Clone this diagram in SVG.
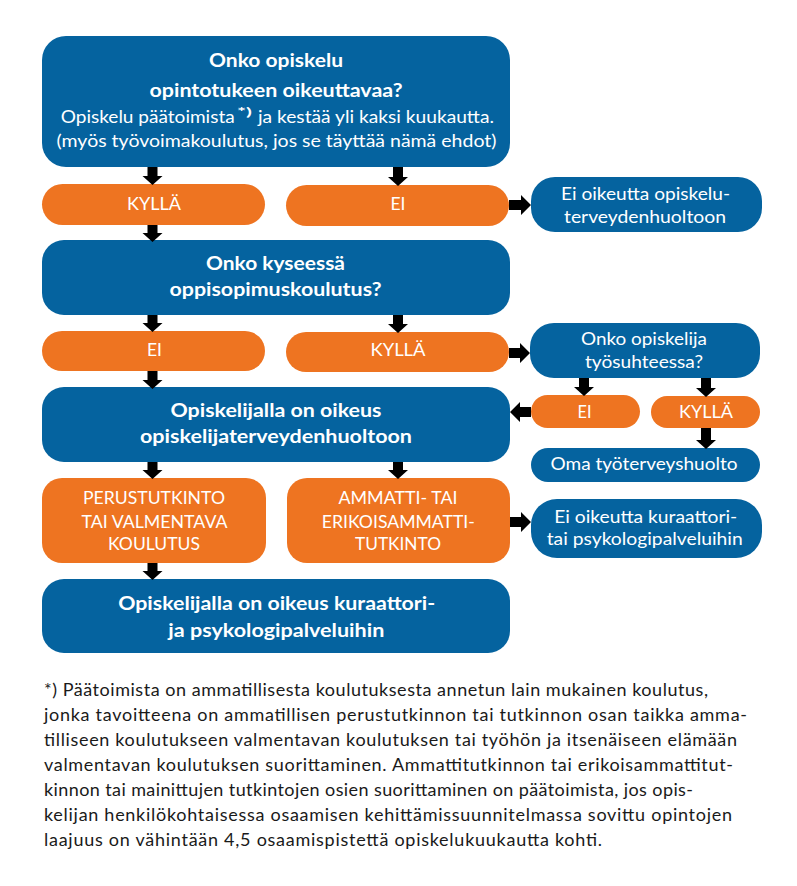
<svg xmlns="http://www.w3.org/2000/svg" width="797" height="886" viewBox="0 0 797 886">
<style>
.blue{fill:#05639f}
.orange{fill:#ee7421}
.t{font-family:Lato,"Open Sans","Liberation Sans",sans-serif;fill:#fff;text-anchor:middle}
.b{font-weight:700}
.s19{font-size:19px}
.s18{font-size:18px}
.s17{font-size:17px}
.arrow{fill:#000}
.fn{font-family:Lato,"Open Sans","Liberation Sans",sans-serif;font-size:18px;fill:#1a1a1a}
</style>
<rect width="797" height="886" fill="#fff"/>
<g id="n1">
<rect class="blue" x="42" y="36" width="468" height="131" rx="24"/>
<text class="t b s19" x="276" y="67" textLength="134" lengthAdjust="spacingAndGlyphs">Onko opiskelu</text>
<text class="t b s19" x="276" y="97" textLength="253" lengthAdjust="spacingAndGlyphs">opintotukeen oikeuttavaa?</text>
<text class="t s18" x="60.7" y="123" style="text-anchor:start" textLength="174" lengthAdjust="spacingAndGlyphs">Opiskelu päätoimista</text>
<text class="t b" x="237" y="116" style="text-anchor:start;font-size:12px" textLength="15" lengthAdjust="spacingAndGlyphs">*)</text>
<text class="t s18" x="258" y="123" style="text-anchor:start" textLength="236" lengthAdjust="spacingAndGlyphs">ja kestää yli kaksi kuukautta.</text>
<text class="t s18" x="276.5" y="146.5" textLength="440" lengthAdjust="spacingAndGlyphs">(myös työvoimakoulutus, jos se täyttää nämä ehdot)</text>
</g>
<g id="n2">
<rect class="orange" x="42" y="184" width="223" height="41" rx="20.5"/>
<text class="t s18" x="154" y="209.5" textLength="54" lengthAdjust="spacingAndGlyphs">KYLLÄ</text>
</g>
<g id="n3">
<rect class="orange" x="286" y="185" width="223" height="41" rx="20.5"/>
<text class="t s18" x="398" y="210" textLength="15" lengthAdjust="spacingAndGlyphs">EI</text>
</g>
<g id="n4">
<rect class="blue" x="531" y="177" width="231" height="55" rx="24"/>
<text class="t s17" x="645.5" y="199.5" textLength="169" lengthAdjust="spacingAndGlyphs">Ei oikeutta opiskelu-</text>
<text class="t s17" x="645" y="222.5" textLength="162" lengthAdjust="spacingAndGlyphs">terveydenhuoltoon</text>
</g>
<g id="n5">
<rect class="blue" x="42" y="240" width="468" height="75" rx="22"/>
<text class="t b s19" x="275.5" y="270" textLength="139" lengthAdjust="spacingAndGlyphs">Onko kyseessä</text>
<text class="t b s19" x="275.5" y="296" textLength="212" lengthAdjust="spacingAndGlyphs">oppisopimuskoulutus?</text>
</g>
<g id="n6">
<rect class="orange" x="42" y="331" width="223" height="40" rx="20"/>
<text class="t s18" x="154.5" y="355.5" textLength="15" lengthAdjust="spacingAndGlyphs">EI</text>
</g>
<g id="n7">
<rect class="orange" x="286" y="332" width="223" height="40" rx="20"/>
<text class="t s18" x="398" y="356" textLength="55" lengthAdjust="spacingAndGlyphs">KYLLÄ</text>
</g>
<g id="n8">
<rect class="blue" x="530" y="323" width="230" height="55" rx="24"/>
<text class="t s17" x="644" y="345" textLength="126" lengthAdjust="spacingAndGlyphs">Onko opiskelija</text>
<text class="t s17" x="644" y="367.5" textLength="118" lengthAdjust="spacingAndGlyphs">työsuhteessa?</text>
</g>
<g id="n9">
<rect class="blue" x="42" y="387" width="468" height="75" rx="22"/>
<text class="t b s19" x="276" y="416.5" textLength="211" lengthAdjust="spacingAndGlyphs">Opiskelijalla on oikeus</text>
<text class="t b s19" x="276" y="442.5" textLength="272" lengthAdjust="spacingAndGlyphs">opiskelijaterveydenhuoltoon</text>
</g>
<g id="n10">
<rect class="orange" x="531" y="395" width="109" height="33" rx="16.5"/>
<text class="t s18" x="584.5" y="418" textLength="14" lengthAdjust="spacingAndGlyphs">EI</text>
</g>
<g id="n11">
<rect class="orange" x="651" y="396" width="109" height="32" rx="16"/>
<text class="t s18" x="706" y="418" textLength="54" lengthAdjust="spacingAndGlyphs">KYLLÄ</text>
</g>
<g id="n12">
<rect class="blue" x="531" y="448" width="229" height="34" rx="17"/>
<text class="t s17" x="644" y="470" textLength="187" lengthAdjust="spacingAndGlyphs">Oma työterveyshuolto</text>
</g>
<g id="n13">
<rect class="orange" x="42" y="478" width="224" height="85" rx="20"/>
<text class="t s18" x="154" y="504" textLength="142" lengthAdjust="spacingAndGlyphs">PERUSTUTKINTO</text>
<text class="t s18" x="154.5" y="527.5" textLength="146" lengthAdjust="spacingAndGlyphs">TAI VALMENTAVA</text>
<text class="t s18" x="154" y="550" textLength="92" lengthAdjust="spacingAndGlyphs">KOULUTUS</text>
</g>
<g id="n14">
<rect class="orange" x="287" y="478" width="223" height="85" rx="20"/>
<text class="t s18" x="398" y="504" textLength="119" lengthAdjust="spacingAndGlyphs">AMMATTI- TAI</text>
<text class="t s18" x="398.3" y="527.5" textLength="153" lengthAdjust="spacingAndGlyphs">ERIKOISAMMATTI-</text>
<text class="t s18" x="398" y="550" textLength="86" lengthAdjust="spacingAndGlyphs">TUTKINTO</text>
</g>
<g id="n15">
<rect class="blue" x="531" y="499" width="231" height="59" rx="26"/>
<text class="t s17" x="645.7" y="523.3" textLength="183" lengthAdjust="spacingAndGlyphs">Ei oikeutta kuraattori-</text>
<text class="t s17" x="644.7" y="545" textLength="196" lengthAdjust="spacingAndGlyphs">tai psykologipalveluihin</text>
</g>
<g id="n16">
<rect class="blue" x="42" y="579" width="468" height="74" rx="22"/>
<text class="t b s19" x="276.7" y="610" textLength="317" lengthAdjust="spacingAndGlyphs">Opiskelijalla on oikeus kuraattori-</text>
<text class="t b s19" x="276.3" y="636.5" textLength="216" lengthAdjust="spacingAndGlyphs">ja psykologipalveluihin</text>
</g>
<g id="connectors" class="arrow">
<path d="M147.5 167 H157.5 V176 H162.5 L152.5 185 L142.5 176 H147.5 Z"/>
<path d="M393 167 H403 V177 H408 L398 186 L388 177 H393 Z"/>
<path d="M147.5 225 H157.5 V233 H162.5 L152.5 242 L142.5 233 H147.5 Z"/>
<path d="M147.5 315 H157.5 V323 H162.5 L152.5 332 L142.5 323 H147.5 Z"/>
<path d="M393 315 H403 V324 H408 L398 333 L388 324 H393 Z"/>
<path d="M147.5 371 H157.5 V380 H162.5 L152.5 389 L142.5 380 H147.5 Z"/>
<path d="M147.5 462 H157.5 V470 H162.5 L152.5 479 L142.5 470 H147.5 Z"/>
<path d="M393 462 H403 V470 H408 L398 479 L388 470 H393 Z"/>
<path d="M147.5 563 H157.5 V571 H162.5 L152.5 580 L142.5 571 H147.5 Z"/>
<path d="M579 378 H589 V387 H594 L584 396 L574 387 H579 Z"/>
<path d="M701 378 H711 V388 H716 L706 397 L696 388 H701 Z"/>
<path d="M701 428 H711 V440 H716 L706 449 L696 440 H701 Z"/>
<path d="M509 200 H521 V195 L531 205 L521 215 V210 H509 Z"/>
<path d="M509 348 H520 V343 L530 353 L520 363 V358 H509 Z"/>
<path d="M510 517 H521 V512 L531 522 L521 532 V527 H510 Z"/>
<path d="M531 407 H520 V402 L510 412 L520 422 V417 H531 Z"/>
</g>
<g id="footnote">
<text class="fn" x="44" y="696" textLength="664" lengthAdjust="spacing">*) Päätoimista on ammatillisesta koulutuksesta annetun lain mukainen koulutus,</text>
<text class="fn" x="44" y="721" textLength="703" lengthAdjust="spacing">jonka tavoitteena on ammatillisen perustutkinnon tai tutkinnon osan taikka amma-</text>
<text class="fn" x="44" y="746" textLength="693" lengthAdjust="spacing">tilliseen koulutukseen valmentavan koulutuksen tai työhön ja itsenäiseen elämään</text>
<text class="fn" x="44" y="771" textLength="689" lengthAdjust="spacing">valmentavan koulutuksen suorittaminen. Ammattitutkinnon tai erikoisammattitut-</text>
<text class="fn" x="44" y="796" textLength="649" lengthAdjust="spacing">kinnon tai mainittujen tutkintojen osien suorittaminen on päätoimista, jos opis-</text>
<text class="fn" x="44" y="821" textLength="688" lengthAdjust="spacing">kelijan henkilökohtaisessa osaamisen kehittämissuunnitelmassa sovittu opintojen</text>
<text class="fn" x="44" y="846" textLength="558" lengthAdjust="spacing">laajuus on vähintään 4,5 osaamispistettä opiskelukuukautta kohti.</text>
</g>
</svg>
